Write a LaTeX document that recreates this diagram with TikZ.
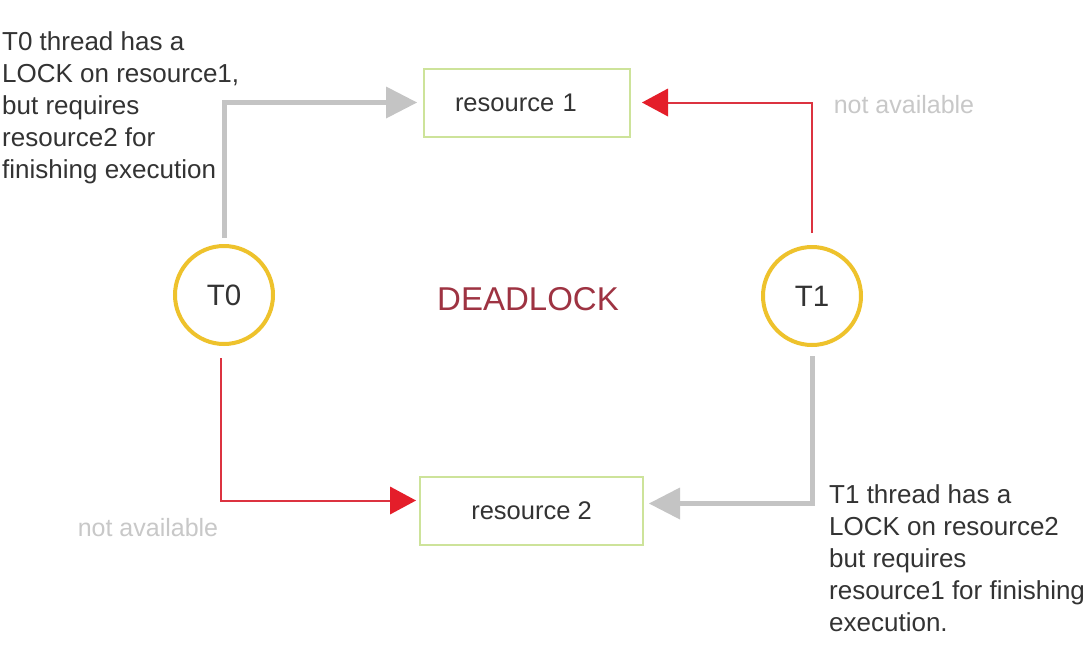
\documentclass[tikz,border=0pt]{standalone}
\usepackage{fontspec}
\setmainfont{Liberation Sans}
\usetikzlibrary{arrows.meta}
\definecolor{gline}{HTML}{C4C4C4}
\definecolor{rline}{HTML}{DC3340}
\definecolor{rhead}{HTML}{E41E2A}
\definecolor{boxc}{HTML}{CDE39A}
\definecolor{circc}{HTML}{EEC22C}
\definecolor{txt}{HTML}{333333}
\definecolor{dl}{HTML}{9E3342}
\definecolor{na}{HTML}{C8C8C8}
\begin{document}
\begin{tikzpicture}[x=1pt,y=-1pt,
  resbox/.style={draw=boxc,line width=2pt,minimum width=#1,minimum height=68pt,inner sep=0pt,font=\fontsize{25.5}{30}\selectfont,text=txt},
  thread/.style={circle,draw=circc,line width=4pt,minimum size=98pt,inner sep=0pt,font=\fontsize{29.5}{34}\selectfont,text=txt},
  note/.style={align=left,anchor=north west,inner sep=0pt,font=\fontsize{26}{32}\selectfont,text=txt},
  navail/.style={font=\fontsize{25}{30}\selectfont,text=na,inner sep=0pt},
  holdarrow/.style={draw=gline,line width=5pt,-{Triangle[length=31pt,width=32pt,line width=0pt,color=gline]}},
  waitarrow/.style={draw=rline,line width=2pt,-{Triangle[length=26pt,width=28pt,line width=0pt,color=rhead]}},
]
\useasboundingbox[fill=white] (0,0) rectangle (1090,646);

\node[resbox=206pt,text width=144pt,align=left] (r1) at (527,102.5) {resource 1};
\node[resbox=223pt] (r2) at (531.5,510.5) {resource 2};
\node[thread] (T0) at (224,295) {T0};
\node[thread] (T1) at (812,296) {T1};
\node[font=\fontsize{33}{38}\selectfont,text=dl] (dl) at (528,299) {DEADLOCK};

\node[note] (n0) at (2,31) {T0 thread has a\\LOCK on resource1,\\but requires\\resource2 for\\finishing execution};
\node[note] (n1) at (829,484) {T1 thread has a\\LOCK on resource2\\but requires\\resource1 for finishing\\execution.};
\node[navail] (na1) at (904,105) {not available};
\node[navail] (na2) at (148,528) {not available};

\draw[holdarrow,shorten <=6pt,shorten >=6pt] (T0.north) |- (r1.west);
\draw[waitarrow,shorten <=12pt,shorten >=11pt] (T1.north) |- (r1.east);
\draw[waitarrow,shorten <=12pt,shorten >=3pt] ([xshift=-3pt]T0.south) |- ([yshift=10pt]r2.west);
\draw[holdarrow,shorten <=9pt,shorten >=5pt] (T1.south) |- ([yshift=7pt]r2.east);
\end{tikzpicture}
\end{document}
